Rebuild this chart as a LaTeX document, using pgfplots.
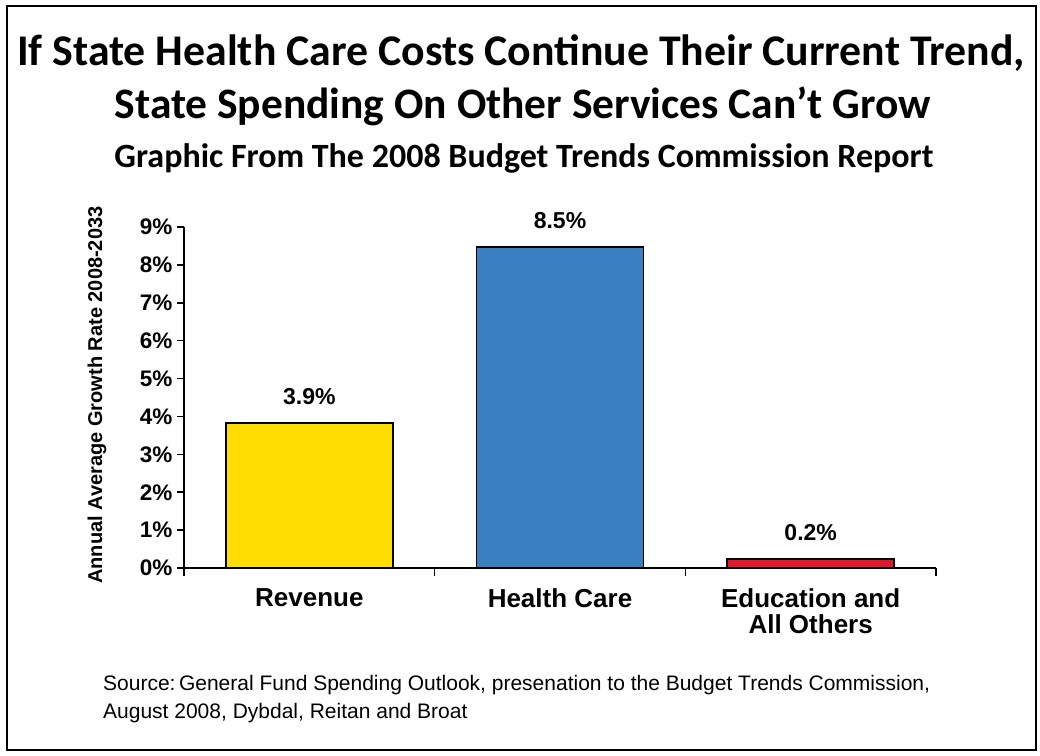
\documentclass[border=0pt]{standalone}
\usepackage{fontspec}
\setmainfont{Liberation Sans}
\newfontfamily\calibri{Carlito}
\usepackage{pgfplots}
\pgfplotsset{compat=1.18}
\definecolor{revyellow}{HTML}{FFDD00}
\definecolor{hcblue}{HTML}{3A7FC2}
\definecolor{edred}{HTML}{E01A2E}
\begin{document}
\begin{tikzpicture}[x=1pt,y=1pt]
\path[use as bounding box] (0,0) rectangle (1040,-755);
\draw[line width=2pt] (7,-6) rectangle (1036,-750);
% titles
\node[anchor=base, inner sep=0, font=\calibri\bfseries\fontsize{43.8}{48}\selectfont] at (521,-65) {If State Health Care Costs Continue Their Current Trend,};
\node[anchor=base, inner sep=0, font=\calibri\bfseries\fontsize{43.5}{48}\selectfont] at (523,-118) {State Spending On Other Services Can’t Grow};
\node[anchor=base, inner sep=0, font=\calibri\bfseries\fontsize{34}{36}\selectfont] at (524,-167) {Graphic From The 2008 Budget Trends Commission Report};
\begin{axis}[
    at={(184pt,-568pt)}, anchor=south west,
    scale only axis,
    width=752pt, height=341pt,
    xmin=-0.5, xmax=2.5,
    ymin=0, ymax=9,
    axis x line=bottom, axis y line=left,
    axis line style={-, line width=1.6pt},
    xtick={0,1,2},
    xticklabels={\strut Revenue, \strut Health Care, {\strut Education and\\All Others}},
    major x tick style={draw=none},
    minor xtick={-0.5,0.5,1.5,2.5},
    minor tick length=8pt,
    minor tick style={line width=1.6pt, black},
    ytick={0,1,...,9},
    major tick length=7pt,
    tick align=outside,
    ytick style={line width=1.6pt, black},
    /pgf/number format/assume math mode=true,
    yticklabel={\pgfmathprintnumber{\tick}\%},
    yticklabel style={font=\bfseries\fontsize{22.5}{22.5}\selectfont, xshift=-1pt},
    xticklabel style={font=\bfseries\fontsize{26}{22}\selectfont, align=center, anchor=north, yshift=-10pt},
    ylabel={Annual Average Growth Rate 2008-2033},
    ylabel style={at={(axis description cs:-0.1157,0.507)}, anchor=center, font=\bfseries\fontsize{20}{20}\selectfont},
    ybar, bar width=167pt, bar shift=0pt,
    nodes near coords,
    point meta=explicit symbolic,
    every node near coord/.append style={font=\bfseries\fontsize{23}{23}\selectfont, yshift=14pt},
    clip=false,
]
\addplot[fill=revyellow, draw=black, line width=1.6pt] coordinates {(0,3.82) [3.9\%]};
\addplot[fill=hcblue, draw=black, line width=1.6pt] coordinates {(1,8.47) [8.5\%]};
\addplot[fill=edred, draw=black, line width=1.6pt] coordinates {(2,0.24) [0.2\%]};
\end{axis}
% source
\node[anchor=base west, inner sep=0, font=\fontsize{21}{22}\selectfont] at (103,-690) {Source:\,General Fund Spending Outlook, presenation to the Budget Trends Commission,};
\node[anchor=base west, inner sep=0, font=\fontsize{21}{22}\selectfont] at (103,-718) {August 2008, Dybdal, Reitan and Broat};
\end{tikzpicture}
\end{document}
